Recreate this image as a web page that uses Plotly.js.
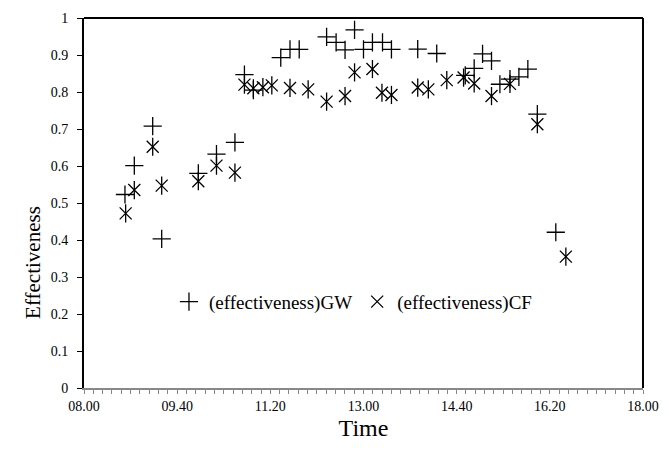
<!DOCTYPE html>
<html>
<head>
<meta charset="utf-8">
<script src="https://cdn.plot.ly/plotly-3.0.1.min.js"></script>
<style>html,body{margin:0;padding:0;background:#fff;}#chart{width:669px;height:452px;}</style>
</head>
<body>
<div id="chart"></div>
<script>
// Time in decimal hours
const gwTime = [8.733, 8.90, 9.229, 9.39, 10.045, 10.37, 10.70, 10.87, 11.03, 11.52, 11.685, 11.85, 12.34, 12.51, 12.67, 12.84, 13.00, 13.16, 13.34, 13.50, 13.97, 14.31, 14.82, 14.98, 15.13, 15.29, 15.44, 15.62, 15.78, 15.94, 16.11, 16.44];
const gwEff  = [0.523, 0.601, 0.708, 0.403, 0.580, 0.632, 0.664, 0.847, 0.805, 0.893, 0.915, 0.915, 0.949, 0.934, 0.914, 0.968, 0.915, 0.934, 0.934, 0.915, 0.916, 0.904, 0.845, 0.864, 0.903, 0.884, 0.821, 0.835, 0.841, 0.862, 0.740, 0.421];
const cfTime = [8.745, 8.90, 9.229, 9.39, 10.045, 10.37, 10.70, 10.87, 11.03, 11.20, 11.36, 11.685, 12.01, 12.34, 12.67, 12.84, 13.16, 13.33, 13.50, 13.97, 14.16, 14.49, 14.79, 14.98, 15.29, 15.62, 16.11, 16.62];
const cfEff  = [0.472, 0.535, 0.652, 0.547, 0.559, 0.601, 0.582, 0.820, 0.810, 0.813, 0.818, 0.811, 0.807, 0.774, 0.789, 0.853, 0.862, 0.798, 0.792, 0.812, 0.807, 0.832, 0.839, 0.823, 0.789, 0.822, 0.713, 0.355];
const xTickVals = [8, 9 + 40/60, 11 + 20/60, 13, 14 + 40/60, 16 + 20/60, 18];
const xTickText = ["08.00", "09.40", "11.20", "13.00", "14.40", "16.20", "18.00"];
const gwName = "(effectiveness)GW";
const cfName = "(effectiveness)CF";
const yTitle = "Effectiveness";
const xTitle = "Time";

const font = "Liberation Serif, Times New Roman, serif";
const traces = [
  {x: gwTime, y: gwEff, type: 'scatter', mode: 'markers', name: gwName,
   marker: {symbol: 'cross-thin-open', size: 13, color: '#000', line: {color: '#000', width: 1.3}}},
  {x: cfTime, y: cfEff, type: 'scatter', mode: 'markers', name: cfName,
   marker: {symbol: 'x-thin-open', size: 12, color: '#000', line: {color: '#000', width: 1.3}}},
  {x: cfTime, y: cfEff, type: 'scatter', mode: 'markers', name: cfName, showlegend: false,
   marker: {symbol: 'line-ns-open', size: 13, color: '#000', line: {color: '#000', width: 1.3}}}
];
const layout = {
  width: 669, height: 452,
  margin: {l: 84, r: 26, t: 18, b: 64},
  paper_bgcolor: '#fff', plot_bgcolor: '#fff',
  font: {family: font, color: '#000', size: 14},
  showlegend: true,
  legend: {orientation: 'h', x: 0.152, y: 0.233, xanchor: 'left', yanchor: 'middle',
           font: {family: font, size: 19, color: '#000'}, bgcolor: 'rgba(0,0,0,0)', itemwidth: 30},
  xaxis: {range: [8, 18], tickmode: 'array', tickvals: xTickVals, ticktext: xTickText,
          ticks: 'outside', ticklen: 4, tickcolor: '#888', tickwidth: 1,
          showgrid: false, zeroline: false, showline: true, linecolor: '#888', linewidth: 2,
          minor: {dtick: 1/6, tick0: 8, ticks: 'outside', ticklen: 4, tickcolor: '#888', tickwidth: 1, showgrid: false},
          tickfont: {family: font, size: 14, color: '#000'},
          title: {text: xTitle, font: {family: font, size: 24, color: '#000'}, standoff: 6}},
  yaxis: {range: [0, 1], dtick: 0.1, tick0: 0, ticks: 'outside', ticklen: 5, tickcolor: '#000', tickwidth: 1,
          showgrid: false, zeroline: false, showline: true, linecolor: '#000', linewidth: 2,
          ticklabelstandoff: 6,
          tickfont: {family: font, size: 14, color: '#000'}},
  annotations: [
    {text: yTitle, xref: 'paper', yref: 'paper', x: -0.09, y: 0.34, xanchor: 'center', yanchor: 'middle',
     textangle: -90, showarrow: false, font: {family: font, size: 21, color: '#000'}}
  ],
  shapes: [
    {type: 'line', xref: 'paper', yref: 'paper', x0: 0, x1: 1, y0: 1, y1: 1, line: {color: '#000', width: 2}},
    {type: 'line', xref: 'paper', yref: 'paper', x0: 1, x1: 1, y0: 0, y1: 1, line: {color: '#000', width: 2}}
  ]
};
Plotly.newPlot('chart', traces, layout, {displayModeBar: false, staticPlot: true});
</script>
</body>
</html>
